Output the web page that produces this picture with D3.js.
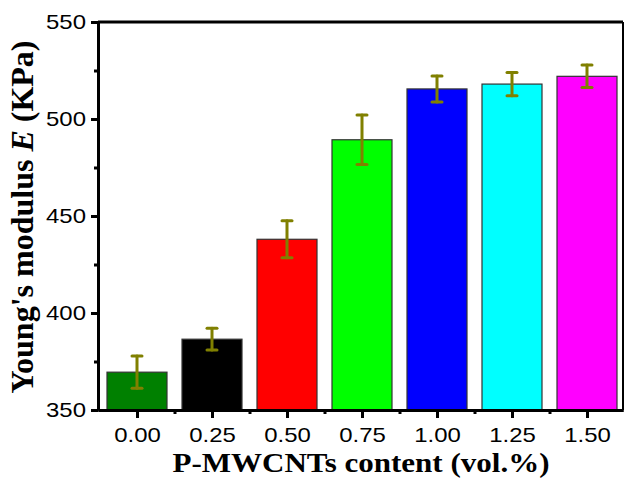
<!DOCTYPE html>
<html>
<head>
<meta charset="utf-8">
<script src="https://cdn.jsdelivr.net/npm/d3@7/dist/d3.min.js"></script>
<style>
  body { margin: 0; background: #fff; }
  svg { display: block; }
</style>
</head>
<body>
<div id="chart-area"></div>
<script>
// data
var contents = [0.00, 0.25, 0.50, 0.75, 1.00, 1.25, 1.50];
var tickLabels = ["0.00", "0.25", "0.50", "0.75", "1.00", "1.25", "1.50"];
var modulus = [369.5, 386.5, 438, 489.3, 515.5, 518, 522];
var errors = [8.3, 5.6, 9.5, 12.7, 6.7, 6, 5.8];
var barColours = ["#008000", "#000000", "#ff0000", "#00ff00", "#0000ff", "#00ffff", "#ff00ff"];
var yTicks = [350, 400, 450, 500, 550];
var yMinor = [375, 425, 475, 525];
var xMinor = [0.125, 0.375, 0.625, 0.875, 1.125, 1.375];

var W = 625, H = 479;
var margin = { left: 98, right: 623, top: 22, bottom: 410 };

var svg = d3.select("#chart-area")
    .append("svg")
    .attr("width", W)
    .attr("height", H);

var x = d3.scaleLinear()
    .domain([-0.13, 1.62])
    .range([margin.left, margin.right]);

var y = d3.scaleLinear()
    .domain([350, 550])
    .range([margin.bottom, margin.top]);

var barW = 60;
var data = contents.map(function(c, i) {
    return { c: c, v: modulus[i], e: errors[i], col: barColours[i] };
});

// bars
svg.selectAll("rect.bar")
    .data(data)
    .enter()
    .append("rect")
    .attr("class", "bar")
    .attr("x", d => x(d.c) - barW / 2)
    .attr("y", d => y(d.v))
    .attr("width", barW)
    .attr("height", d => y(350) - y(d.v))
    .attr("fill", d => d.col)
    .attr("stroke", "#333")
    .attr("stroke-width", 1.2);

// error bars
var eb = svg.selectAll("g.err")
    .data(data)
    .enter()
    .append("g")
    .attr("class", "err")
    .attr("stroke", "#808000")
    .attr("stroke-width", 3)
    .attr("stroke-linecap", "round");
eb.append("line")
    .attr("x1", d => x(d.c)).attr("x2", d => x(d.c))
    .attr("y1", d => y(d.v + d.e)).attr("y2", d => y(d.v - d.e));
eb.append("line")
    .attr("x1", d => x(d.c) - 5).attr("x2", d => x(d.c) + 5)
    .attr("y1", d => y(d.v + d.e)).attr("y2", d => y(d.v + d.e));
eb.append("line")
    .attr("x1", d => x(d.c) - 5).attr("x2", d => x(d.c) + 5)
    .attr("y1", d => y(d.v - d.e)).attr("y2", d => y(d.v - d.e));

// frame top + right
svg.append("line")
    .attr("x1", margin.left).attr("x2", margin.right)
    .attr("y1", margin.top).attr("y2", margin.top)
    .attr("stroke", "#000").attr("stroke-width", 3);
svg.append("line")
    .attr("x1", margin.right).attr("x2", margin.right)
    .attr("y1", margin.top).attr("y2", margin.bottom)
    .attr("stroke", "#000").attr("stroke-width", 2);

// Y Axis
var yAxis = d3.axisLeft(y).tickValues(yTicks).tickSize(7).tickPadding(5).tickSizeOuter(0);
svg.append("g")
    .attr("transform", "translate(" + margin.left + ",0)")
    .call(yAxis);
var yMin = d3.axisLeft(y).tickValues(yMinor).tickSize(4).tickFormat("").tickSizeOuter(0);
svg.append("g")
    .attr("transform", "translate(" + margin.left + ",0)")
    .call(yMin);

// X Axis
var xAxis = d3.axisBottom(x).tickValues(contents)
    .tickFormat(function(d, i) { return tickLabels[i]; })
    .tickSize(8).tickPadding(9).tickSizeOuter(0);
svg.append("g")
    .attr("transform", "translate(0," + margin.bottom + ")")
    .call(xAxis);
var xMin = d3.axisBottom(x).tickValues(xMinor).tickSize(4).tickFormat("").tickSizeOuter(0);
svg.append("g")
    .attr("transform", "translate(0," + margin.bottom + ")")
    .call(xMin);

svg.selectAll(".domain").attr("stroke", "#000").attr("stroke-width", 3);
svg.selectAll(".tick line").attr("stroke", "#000").attr("stroke-width", 3);
// the original's digits are a bit wider than Arial, stretch them a little
svg.selectAll(".tick text")
    .attr("fill", "#000")
    .style("font-family", "'Liberation Sans', Arial, sans-serif")
    .style("font-size", "21px")
    .each(function() {
        var w = this.getComputedTextLength();
        if (w > 0) {
            d3.select(this)
                .attr("textLength", w * 1.14)
                .attr("lengthAdjust", "spacingAndGlyphs");
        }
    });

// axis titles
svg.append("text")
    .attr("x", 361)
    .attr("y", 472)
    .attr("text-anchor", "middle")
    .attr("textLength", 377)
    .attr("lengthAdjust", "spacingAndGlyphs")
    .style("font-family", "'Liberation Serif', 'Times New Roman', serif")
    .style("font-weight", "bold")
    .style("font-size", "27px")
    .text("P-MWCNTs content (vol.%)");

var yt = svg.append("text")
    .attr("transform", "translate(33,217) rotate(-90)")
    .attr("text-anchor", "middle")
    .style("font-family", "'Liberation Serif', 'Times New Roman', serif")
    .style("font-weight", "bold")
    .style("font-size", "32px");
yt.append("tspan").text("Young's modulus ");
yt.append("tspan").style("font-style", "italic").text("E");
yt.append("tspan").text(" (KPa)");
</script>
</body>
</html>
